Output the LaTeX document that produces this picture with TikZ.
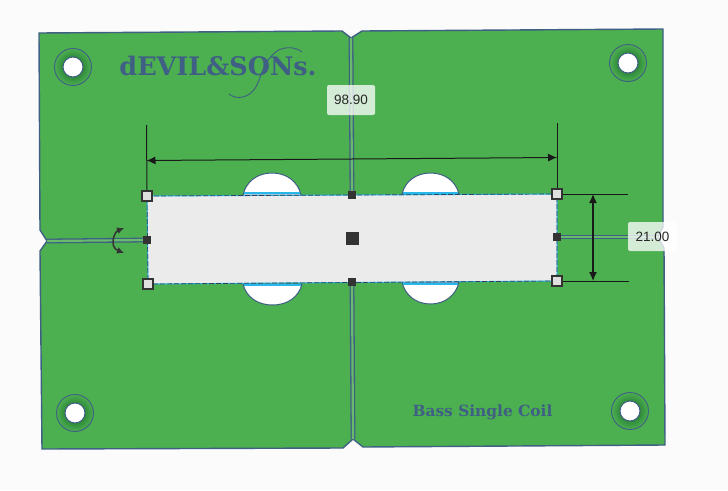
\documentclass[tikz,border=0pt]{standalone}
\usepackage{fontspec}
\usetikzlibrary{arrows.meta}
\setmainfont{Liberation Sans}
\newfontfamily\platefont{DejaVu Serif}
\definecolor{pagegray}{HTML}{FBFBFB}
\definecolor{plategreen}{HTML}{4CAF50}
\definecolor{holegreen}{HTML}{2F8A3B}
\definecolor{edgeblue}{HTML}{3F5F85}
\definecolor{slotcyan}{HTML}{29B6E8}
\definecolor{boxgray}{HTML}{EBEBEB}
\definecolor{handledark}{HTML}{333333}
\pgfdeclareradialshading{holering}{\pgfpointorigin}{color(0bp)=(holegreen);color(13.5bp)=(holegreen);color(25bp)=(plategreen);color(50bp)=(plategreen)}
\tikzset{
  seam/.style={draw=edgeblue,line width=1.3pt,double=plategreen!85!white,double distance=2.2pt},
  corner/.style={draw=handledark,fill=boxgray!95!black,line width=2pt,minimum size=10.5pt,inner sep=0pt},
  midpoint/.style={fill=handledark,minimum size=8pt,inner sep=0pt},
  centerpoint/.style={fill=handledark,minimum size=13pt,inner sep=0pt},
  dimline/.style={draw=black!90,line width=1pt},
  dimlabel/.style={fill=white,fill opacity=0.76,text opacity=1,rounded corners=2pt,font=\fontsize{13.5}{15}\selectfont,text=black!85,inner sep=0pt},
  platetext/.style={text=edgeblue,inner sep=0pt},
}
\begin{document}
\begin{tikzpicture}[>={Latex[length=9pt,width=8pt]},x=1pt,y=-1pt]

\fill[color=pagegray] (0,0) rectangle (728,490);

% plate
\coordinate (notchT) at (351,38);
\coordinate (notchB) at (353,439);
\coordinate (notchL) at (47,241);
\coordinate (notchR) at (658,237);
\fill[color=plategreen,draw=edgeblue,line width=1.4pt]
  (39,33) -- (342,31) -- (notchT) -- (362,31) -- (663,29) -- (663,227) -- (notchR) -- (664,248)
  -- (665,445) -- (363,447) -- (notchB) -- (343,448) -- (42,449) -- (40,251) -- (notchL) -- (40,230) -- cycle;

% holes
\foreach \name/\hx/\hy in {holeTL/73/67,holeTR/628/63,holeBL/75/413,holeBR/630/411} {
  \path[shading=holering,draw=edgeblue,line width=0.9pt] (\hx,\hy) circle[radius=18.5];
  \node[circle,fill=white,draw=edgeblue,line width=1pt,minimum size=20pt,inner sep=0pt] (\name) at (\hx,\hy) {};
}

% slots
\foreach \xa/\xb/\ya/\yb in {243/301/195/173,402/459/194/173,243/302/284/305,402/459/282/304} {
  \fill[color=white,draw=edgeblue,line width=1pt] (\xa,\ya)
    .. controls (\xa+3,\ya+0.6*\yb-0.6*\ya) and (\xa+14,\yb) .. ({(\xa+\xb)/2},\yb)
    .. controls (\xb-14,\yb) and (\xb-3,\ya+0.6*\yb-0.6*\ya) .. (\xb,\ya) -- cycle;
  \draw[color=slotcyan,line width=2pt] (\xa+1,\ya+0.07*\yb-0.07*\ya) -- (\xb-1,\ya+0.07*\yb-0.07*\ya);
}

% selected box
\coordinate (cTL) at (147,196);
\coordinate (cTR) at (557,194);
\coordinate (cBR) at (557,281);
\coordinate (cBL) at (148,284);
\node[midpoint] (midT) at (352,195) {};
\node[midpoint] (midB) at (352,282) {};
\node[midpoint] (midL) at (147,240) {};
\node[midpoint] (midR) at (557,237) {};

\draw[seam] (notchT) -- (midT);
\draw[seam] (midB) -- (notchB);
\draw[seam] (notchL) -- (midL);
\draw[seam] (midR) -- (notchR);

\fill[color=boxgray] (cTL) -- (cTR) -- (cBR) -- (cBL) -- cycle;
\draw[color=slotcyan,line width=1pt] (cTL) -- (cTR) -- (cBR) -- (cBL) -- cycle;
\draw[color=edgeblue!70!black,line width=0.7pt,dash pattern=on 5pt off 2pt] (cTL) -- (cTR) -- (cBR) -- (cBL) -- cycle;

\node[midpoint] at (midT) {};
\node[midpoint] at (midB) {};
\node[midpoint] at (midL) {};
\node[midpoint] at (midR) {};
\node[centerpoint] (middle) at (352,238) {};

% dimensions
\coordinate (wideL) at (146.5,125);
\coordinate (wideR) at (557,123);
\coordinate (wideA) at (146.5,160.5);
\coordinate (wideB) at (557,157.5);
\coordinate (highR1) at (628,194);
\coordinate (highR2) at (629,281);
\coordinate (highA) at (593,194);
\coordinate (highB) at (593,281);

\node[corner] (boxTL) at (cTL) {};
\node[corner] (boxTR) at (cTR) {};
\node[corner] (boxBR) at (cBR) {};
\node[corner] (boxBL) at (cBL) {};

\draw[dimline] (wideL) -- (boxTL);
\draw[dimline] (wideR) -- (boxTR);
\draw[dimline] (boxTR) -- (highR1);
\draw[dimline] (boxBR) -- (highR2);
\draw[dimline,<->] (wideA) -- (wideB);
\draw[dimline,<->,line width=1.3pt] (highA) -- (highB);

\node[dimlabel,minimum width=48pt,minimum height=30pt] (labelW) at (351,100) {98.90};
\node[dimlabel,minimum width=49pt,minimum height=29pt] (labelH) at (652.5,236.5) {21.00};

% rotate mark
\coordinate (turnA) at (124,228);
\coordinate (turnB) at (124,253);
\draw[{Latex[length=7pt,width=7pt]}-{Latex[length=7pt,width=7pt]},color=handledark,line width=1.5pt] (turnA) .. controls (114,232) and (109,247) .. (turnB);

% lettering
\node[platetext,font=\platefont\bfseries\fontsize{25.5}{30}\selectfont] (brand) at (218,66) {dEVIL\&SONs.};
\draw[color=edgeblue,line width=0.9pt] (229,94) .. controls (236,100) and (250,99) .. (257,85)
  .. controls (263,72) and (263,62) .. (277,51) .. controls (285,46) and (296,47) .. (302,52);
\node[platetext,font=\platefont\bfseries\fontsize{15.4}{18}\selectfont] (model) at (482.5,412) {Bass Single Coil};

\end{tikzpicture}
\end{document}
